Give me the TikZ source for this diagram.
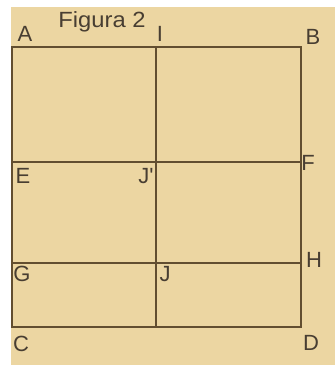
\documentclass[tikz,border=0pt]{standalone}
\usepackage{fontspec}
\setmainfont{Liberation Sans}
\definecolor{paper}{RGB}{236,214,162}
\definecolor{edgeBrown}{RGB}{98,78,48}
\definecolor{labelGray}{RGB}{72,62,50}

\begin{document}
\begin{tikzpicture}
[x=1pt,y=-1pt,
  lineDecorate/.style={draw=edgeBrown,line width=1.8pt},
  labelDecorate/.style={text=labelGray,inner sep=0pt,font=\fontsize{22}{22}\selectfont}]
%% background
\useasboundingbox (0,0) rectangle (335,365);
\fill[white] (0,0) rectangle (335,365);
\fill[paper] (11,7) rectangle (335,365);
%% corner and cut points
\foreach \pointname/\x/\y in {pA/12/47, pB/301/47, pC/12/327, pD/301/327,
  pI/156/47, pK/156/327, pE/12/162, pF/301/162, pG/12/263, pH/301/263} {
  \coordinate (\pointname) at (\x,\y);
}
%% lines
\draw[lineDecorate] (pA) -- (pB) -- (pD) -- (pC) -- cycle;
\draw[lineDecorate] (pI) -- (pK);
\draw[lineDecorate] (pE) -- (pF);
\draw[lineDecorate] (pG) -- (pH);
%% labels
\foreach \labelname/\txt/\x/\y in {lA/A/25/34, lI/I/160/34, lB/B/313/37,
  lE/E/23/176, lJp/J\textquotesingle/146/176, lF/F/308/163, lH/H/314/260,
  lG/G/22/274, lJ/J/165/274, lC/C/21/344, lD/D/311/343} {
  \node[labelDecorate,anchor=center] (\labelname) at (\x,\y) {\vphantom{E}\smash{\txt}};
}
\node[labelDecorate,anchor=base,xscale=1.08] (title) at (102,27) {Figura 2};
\end{tikzpicture}
\end{document}
